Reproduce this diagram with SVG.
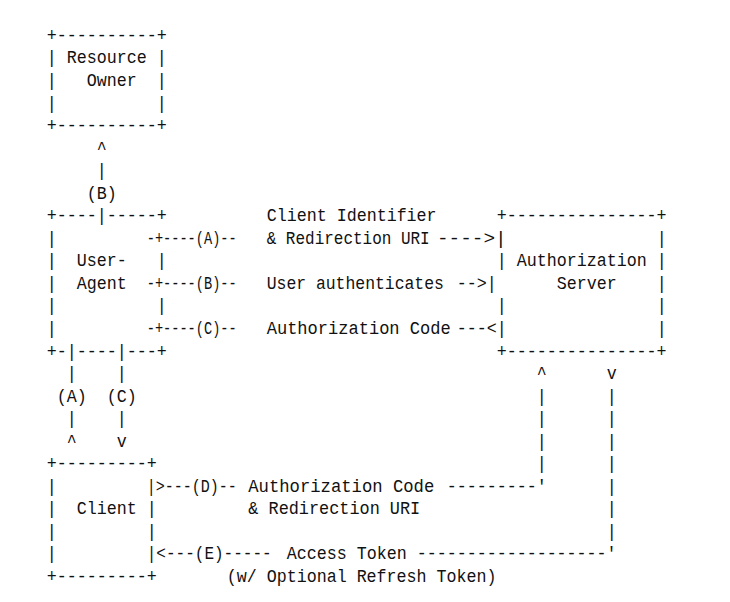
<svg xmlns="http://www.w3.org/2000/svg" width="730" height="602" viewBox="0 0 730 602">
<style>
text{font-family:"Liberation Mono","DejaVu Sans Mono",monospace;font-size:19px;fill:#111;white-space:pre}
.c{text-anchor:middle}
</style>
<rect width="730" height="602" fill="#fff"/>
<g transform="scale(0.8772 1)">
<g id="resource-owner">
<text x="53.24" y="41">+----------+</text>
<text x="53.24" y="63.5">| Resource |</text>
<text x="53.24" y="86.1">|   Owner  |</text>
<text x="53.24" y="108.6">|          |</text>
<text x="53.24" y="131.2">+----------+</text>
</g>
<g id="user-agent">
<text x="53.24" y="221.3">+----|-----+</text>
<text class="c" x="58.94" y="243.9">|</text>
<text class="c" x="58.94" y="266.4">|</text>
<text x="87.44" y="266.4">User-</text>
<text class="c" x="184.34" y="266.4">|</text>
<text class="c" x="58.94" y="288.9">|</text>
<text x="87.44" y="288.9">Agent</text>
<text class="c" x="58.94" y="311.5">|</text>
<text class="c" x="184.34" y="311.5">|</text>
<text class="c" x="58.94" y="334">|</text>
<text x="53.24" y="356.6">+-|----|---+</text>
</g>
<g id="authorization-server">
<text x="566.24" y="221.3">+---------------+</text>
<text class="c" x="754.34" y="243.9">|</text>
<text class="c" x="571.94" y="266.4">|</text>
<text x="589.04" y="266.4">Authorization</text>
<text class="c" x="754.34" y="266.4">|</text>
<text x="634.64" y="288.9">Server</text>
<text class="c" x="754.34" y="288.9">|</text>
<text class="c" x="571.94" y="311.5">|</text>
<text class="c" x="754.34" y="311.5">|</text>
<text class="c" x="754.34" y="334">|</text>
<text x="566.24" y="356.6">+---------------+</text>
</g>
<g id="client">
<text x="53.24" y="469.3">+---------+</text>
<text class="c" x="58.94" y="491.8">|</text>
<text class="c" x="58.94" y="514.3">|</text>
<text x="87.44" y="514.3">Client</text>
<text class="c" x="172.94" y="514.3">|</text>
<text class="c" x="58.94" y="536.9">|</text>
<text class="c" x="172.94" y="536.9">|</text>
<text class="c" x="58.94" y="559.4">|</text>
<text x="53.24" y="582">+---------+</text>
</g>
<g id="connectors">
<text class="c" x="115.94" y="153.7">^</text>
<text class="c" x="115.94" y="176.2">|</text>
<text x="98.84" y="198.8">(B)</text>
<text x="304.04" y="221.3">Client Identifier</text>
<text x="167.24" y="243.9" textLength="102.6" lengthAdjust="spacingAndGlyphs">-+----(A)--</text>
<text x="304.04" y="243.9" textLength="185.8" lengthAdjust="spacingAndGlyphs">&amp; Redirection URI</text>
<text x="498.18" y="243.9" textLength="79.46" lengthAdjust="spacingAndGlyphs">----&gt;|</text>
<text x="167.24" y="288.9" textLength="102.6" lengthAdjust="spacingAndGlyphs">-+----(B)--</text>
<text x="304.04" y="288.9" textLength="202" lengthAdjust="spacingAndGlyphs">User authenticates</text>
<text x="520.64" y="288.9">--&gt;|</text>
<text x="167.24" y="334" textLength="102.6" lengthAdjust="spacingAndGlyphs">-+----(C)--</text>
<text x="304.04" y="334" textLength="209.76" lengthAdjust="spacingAndGlyphs">Authorization Code</text>
<text x="520.64" y="334">---&lt;|</text>
<text class="c" x="81.74" y="379.1">|</text>
<text class="c" x="138.74" y="379.1">|</text>
<text class="c" x="617.54" y="379.1">^</text>
<text class="c" x="697.34" y="379.1">v</text>
<text x="64.64" y="401.6">(A)</text>
<text x="121.64" y="401.6">(C)</text>
<text class="c" x="617.54" y="401.6">|</text>
<text class="c" x="697.34" y="401.6">|</text>
<text class="c" x="81.74" y="424.2">|</text>
<text class="c" x="138.74" y="424.2">|</text>
<text class="c" x="617.54" y="424.2">|</text>
<text class="c" x="697.34" y="424.2">|</text>
<text class="c" x="81.74" y="446.7">^</text>
<text class="c" x="138.74" y="446.7">v</text>
<text class="c" x="617.54" y="446.7">|</text>
<text class="c" x="697.34" y="446.7">|</text>
<text class="c" x="617.54" y="469.3">|</text>
<text class="c" x="697.34" y="469.3">|</text>
<text x="167.24" y="491.8" textLength="102.6" lengthAdjust="spacingAndGlyphs">|&gt;---(D)--</text>
<text x="283.06" y="491.8" textLength="212" lengthAdjust="spacingAndGlyphs">Authorization Code</text>
<text x="509.24" y="491.8">---------'</text>
<text class="c" x="697.34" y="491.8">|</text>
<text x="283.06" y="514.3" textLength="196" lengthAdjust="spacingAndGlyphs">&amp; Redirection URI</text>
<text class="c" x="697.34" y="514.3">|</text>
<text class="c" x="697.34" y="536.9">|</text>
<text x="167.24" y="559.4" textLength="142.5" lengthAdjust="spacingAndGlyphs">|&lt;---(E)-----</text>
<text x="326.84" y="559.4">Access Token</text>
<text x="475.04" y="559.4">-------------------'</text>
<text x="258.44" y="582">(w/ Optional Refresh Token)</text>
</g>
</g>
</svg>
